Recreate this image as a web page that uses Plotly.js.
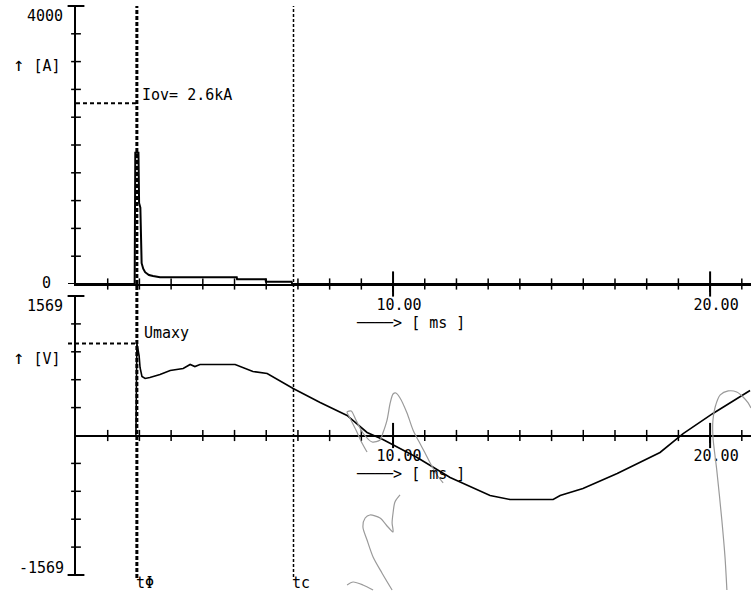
<!DOCTYPE html>
<html><head><meta charset="utf-8">
<script src="https://cdn.plot.ly/plotly-3.0.1.min.js"></script>
<style>html,body{margin:0;padding:0;background:#fff;}#chart{width:751px;height:591px;}</style>
</head><body><div id="chart"></div>
<script>
// ---- data (time in ms) ----
const currentTime = [0, 1.85, 1.87, 1.97, 1.99, 2.03, 2.07, 2.12, 2.18, 2.30, 2.43, 2.65, 5.07, 5.08, 5.98, 5.99, 6.80, 6.82, 21.3];
const currentAmps = [0, 0, 1890, 1890, 1165, 1100, 300, 220, 170, 130, 115, 96, 96, 68, 68, 33, 33, 0, 0];

const voltageTime = [1.89, 1.92, 1.99, 2.02, 2.08, 2.18, 2.33, 2.65, 2.97, 3.38, 3.60, 3.75, 3.91, 5.02, 5.58, 6.03, 6.85, 7.70, 8.55, 9.18, 9.68, 10.76, 11.80, 13.06, 13.69, 15.05, 15.27, 15.99, 17.07, 18.42, 19.15, 20.09, 21.26];
const voltageVolts = [0, 1035, 900, 765, 664, 641, 653, 686, 731, 754, 799, 776, 799, 799, 720, 698, 529, 371, 225, 34, -45, -248, -473, -675, -720, -720, -675, -596, -428, -191, 22, 248, 506];

// grey pen marks overlaid on the printout (time ms, volts), segments split by null
const penTime = [9.18, 9.02, 8.83, 8.64, 8.55, 8.68, 8.83, 9.05, 9.34, 9.59, 9.68, 9.81, 9.91, 10.00, 10.09, 10.22, 10.44, 10.63, 10.79, 11.01, 11.17, 11.39, 11.58, null,
  10.22, 10.06, 10.00, 9.97, 10.00, 9.84, 9.59, 9.27, 9.12, 9.05, 9.18, 9.37, 9.65, 9.97, null,
  8.55, 8.74, 9.05, 9.37, null,
  20.53, 20.47, 20.37, 20.21, 20.09, 20.09, 20.16, 20.32, 20.57, 20.84, 21.04, 21.20, 21.29];
const penVolts = [-186, -84, 62, 197, 264, 276, 174, 28, -73, -51, 28, 174, 366, 467, 478, 422, 253, 62, -51, -197, -309, -444, -534, null,
  -669, -748, -872, -984, -1085, -1029, -928, -894, -928, -1029, -1175, -1366, -1546, -1738, null,
  -1681, -1648, -1681, -1738, null,
  -1738, -1366, -950, -388, -17, 174, 321, 456, 501, 489, 433, 366, 309];

// ---- ticks / labels ----
const xTickVals = [10, 20];
const xTickText = ['10.00', '20.00'];
const xMinorVals = [1, 2, 3, 4, 5, 6, 7, 8, 9, 11, 12, 13, 14, 15, 16, 17, 18, 19, 21];
const ampRange = [0, 4000];
const ampMinor = [400, 800, 1200, 1600, 2000, 2400, 2800, 3200, 3600];
const ampTickLabels = ['4000', '0'];
const voltRange = [-1569, 1569];
const voltMinor = [-1255.2, -941.4, -627.6, -313.8, 313.8, 627.6, 941.4, 1255.2];
const voltTickLabels = ['1569', '-1569'];
const upArrow = '<span style="font-size:19px">\u2191</span>';
const unitA = upArrow + ' [A]';
const unitV = upArrow + ' [V]';
const timeUnit = '\u2500\u2500\u2500\u2500> [ ms ]';
const t0 = 1.92, tc = 6.86;
const t0Label = 't\u03A6', tcLabel = 'tc';
const iov = 2600, umax = 1035;
const iovLabel = 'Iov= ' + (iov / 1000).toFixed(1) + 'kA';
const umaxLabel = 'Umaxy';

// ---- layout helpers (pixel -> paper) ----
const L = 76, W = 675, H = 591;
const px = x => (x - L) / W;
const py = y => 1 - y / H;
const FONT = {family: 'DejaVu Sans Mono, monospace', size: 15, color: '#000'};
const xEnd = 21.29;

function xAxis(extra) {
  return Object.assign({
    range: [0, xEnd], domain: [0, 1], showgrid: false, zeroline: false,
    showline: true, linecolor: '#000', linewidth: 2,
    tickmode: 'array', tickvals: xTickVals, ticktext: xTickText,
    ticks: 'outside', ticklen: 6, tickwidth: 2, tickcolor: '#000',
    tickfont: FONT, ticklabelshift: 6, fixedrange: true
  }, extra);
}
function yAxis(range, extra) {
  return Object.assign({
    range: range, showgrid: false, zeroline: false, showline: true, linecolor: '#000', linewidth: 2,
    ticks: '', showticklabels: false, fixedrange: true
  }, extra);
}

const topDomain = [py(284), py(6)];
const botDomain = [py(575), py(296)];
const zeroPos = py(435.5);
const penBottom = voltRange[0] - (591 - 575) * (voltRange[1] - voltRange[0]) / (575 - 296);

// tick marks that cross the axis lines, built from the tick arrays
function tickMarks(xs, ys, xa, ya, symbol, size, width) {
  return {x: xs, y: ys, xaxis: xa, yaxis: ya, mode: 'markers', cliponaxis: false, hoverinfo: 'skip',
    marker: {symbol: symbol, size: size, color: '#000', line: {color: '#000', width: width}}};
}
const zerosX = xMinorVals.map(() => 0);
const zerosXM = xTickVals.map(() => 0);

const traces = [
  {x: penTime, y: penVolts, xaxis: 'x2', yaxis: 'y5', mode: 'lines', connectgaps: false,
   line: {color: '#9a9a9a', width: 1.2, shape: 'spline', smoothing: 0.8}, hoverinfo: 'skip'},
  {x: currentTime, y: currentAmps, xaxis: 'x', yaxis: 'y', mode: 'lines',
   line: {color: '#000', width: 2}, hoverinfo: 'skip'},
  {x: voltageTime, y: voltageVolts, xaxis: 'x2', yaxis: 'y2', mode: 'lines',
   line: {color: '#000', width: 1.6}, hoverinfo: 'skip'},
  tickMarks(xMinorVals, zerosX, 'x', 'y', 'line-ns-open', 8, 1.5),
  tickMarks(xTickVals, zerosXM, 'x', 'y', 'line-ns-open', 18, 2),
  tickMarks(xMinorVals, zerosX, 'x2', 'y2', 'line-ns-open', 8, 1.5),
  tickMarks(xTickVals, zerosXM, 'x2', 'y2', 'line-ns-open', 18, 2),
  tickMarks(ampMinor.map(() => 0), ampMinor, 'x', 'y', 'line-ew-open', 7, 1.5),
  tickMarks([0], [ampRange[1]], 'x', 'y', 'line-ew-open', 12, 2),
  tickMarks(voltMinor.map(() => 0), voltMinor, 'x2', 'y2', 'line-ew-open', 7, 1.5),
  tickMarks(voltRange.map(() => 0), voltRange, 'x2', 'y2', 'line-ew-open', 12, 2)
];

const annotations = [
  {text: ampTickLabels[0], x: px(64), y: py(16), xanchor: 'right'},
  {text: unitA, x: px(12), y: py(64), xanchor: 'left'},
  {text: ampTickLabels[1], x: px(52), y: py(283), xanchor: 'right'},
  {text: voltTickLabels[0], x: px(64), y: py(306), xanchor: 'right'},
  {text: unitV, x: px(12), y: py(357), xanchor: 'left'},
  {text: voltTickLabels[1], x: px(65), y: py(568), xanchor: 'right'},
  {text: iovLabel, x: px(141), y: py(95), xanchor: 'left'},
  {text: umaxLabel, x: px(143), y: py(333), xanchor: 'left'},
  {text: t0Label, x: px(135), y: py(583), xanchor: 'left'},
  {text: tcLabel, x: px(291), y: py(583), xanchor: 'left'},
  {text: timeUnit, x: px(355), y: py(323), xanchor: 'left'},
  {text: timeUnit, x: px(355), y: py(474), xanchor: 'left'}
].map(a => Object.assign({xref: 'paper', yref: 'paper', yanchor: 'middle', showarrow: false, font: FONT, borderpad: 0}, a));

const shapes = [
  {type: 'line', xref: 'x', yref: 'paper', x0: t0, x1: t0, y0: py(578), y1: py(6), line: {color: '#000', width: 3, dash: '4px,2px'}, layer: 'above'},
  {type: 'line', xref: 'x', yref: 'paper', x0: tc, x1: tc, y0: py(577), y1: py(6), line: {color: '#000', width: 1.5, dash: '3px,2px'}, layer: 'above'},
  {type: 'line', xref: 'x', yref: 'y', x0: 0, x1: t0, y0: iov, y1: iov, line: {color: '#000', width: 2, dash: '4px,3px'}, layer: 'above'},
  {type: 'line', xref: 'paper', yref: 'y2', x0: px(68), x1: px(137), y0: umax, y1: umax, line: {color: '#000', width: 2, dash: '4px,3px'}, layer: 'above'},
  {type: 'line', xref: 'paper', yref: 'y', x0: px(68), x1: 0, y0: 0, y1: 0, line: {color: '#000', width: 2}, layer: 'above'}
];

const layout = {
  width: 751, height: 591,
  margin: {l: L, r: 0, t: 0, b: 0, pad: 0},
  paper_bgcolor: '#fff', plot_bgcolor: 'rgba(0,0,0,0)',
  showlegend: false, hovermode: false,
  font: FONT,
  xaxis: xAxis({anchor: 'y'}),
  xaxis2: xAxis({anchor: 'free', position: zeroPos}),
  yaxis: yAxis(ampRange, {domain: topDomain, anchor: 'x'}),
  yaxis2: yAxis(voltRange, {domain: botDomain, anchor: 'x2'}),
  yaxis5: {domain: [0, py(296)], range: [penBottom, voltRange[1]], anchor: 'x2', visible: false, fixedrange: true},
  annotations: annotations,
  shapes: shapes
};

Plotly.newPlot('chart', traces, layout, {staticPlot: true, displayModeBar: false});
</script>
</body></html>
